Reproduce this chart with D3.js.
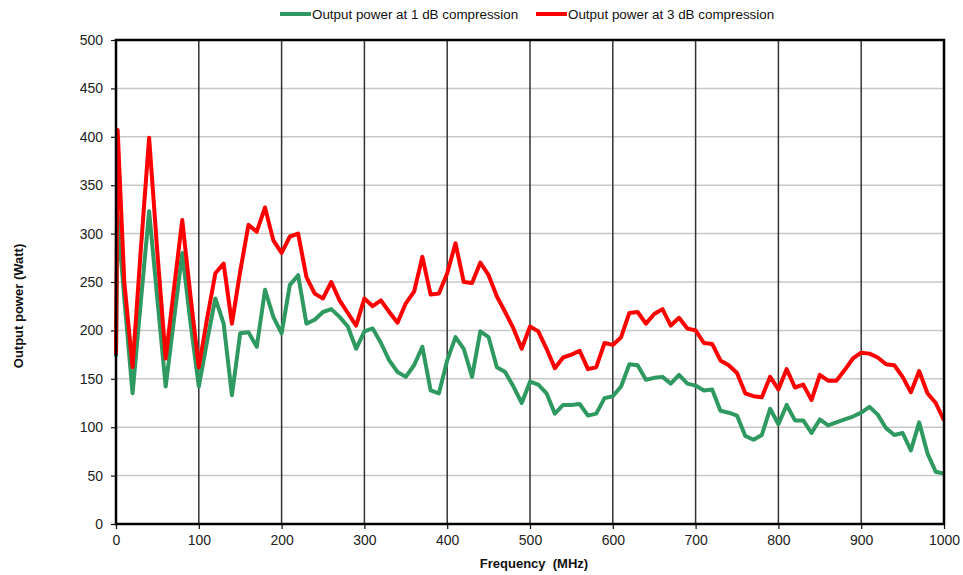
<!DOCTYPE html>
<html><head><meta charset="utf-8">
<script src="https://cdn.jsdelivr.net/npm/d3@7/dist/d3.min.js"></script>
<style>
body{margin:0;background:#fff;}
text{font-family:"Liberation Sans",Arial,Helvetica,sans-serif;}
</style></head>
<body><svg id="c" width="963" height="575"></svg>
<script>
const freq = [0,2,10,20,30,40,50,60,70,80,90,100,110,120,130,140,150,160,170,180,190,200,210,220,230,240,250,260,270,280,290,300,310,320,330,340,350,360,370,380,390,400,410,420,430,440,450,460,470,480,490,500,510,520,530,540,550,560,570,580,590,600,610,620,630,640,650,660,670,680,690,700,710,720,730,740,750,760,770,780,790,800,810,820,830,840,850,860,870,880,890,900,910,920,930,940,950,960,970,980,990,1000];
const p1dB = [173,319,233,135,230,323,232,142,211,280,208,142,189,233,207,133,197,198,183,242,214,197,247,257,207,211,219,222,214,204,181,199,202,187,169,157,152,164,183,138,135,169,193,181,152,199,193,162,157,142,125,147,144,135,114,123,123,124,112,114,130,132,142,165,164,149,151,152,145,154,145,143,138,139,117,115,112,91,87,92,119,103,123,107,107,94,108,102,105,108,111,115,121,113,99,92,94,76,105,73,54,52];
const p3dB = [175,407,250,162,284,399,280,171,243,314,235,162,212,259,269,207,261,309,302,327,293,280,297,300,255,238,233,250,231,218,205,233,225,231,219,208,228,240,276,237,238,259,290,250,249,270,257,235,219,202,181,204,199,181,161,172,175,179,160,162,187,185,193,218,219,207,217,222,205,213,202,200,187,186,169,164,156,135,132,131,152,139,160,141,144,128,154,148,148,159,171,177,176,172,165,164,152,136,158,135,125,107];
const xTicks = [0,100,200,300,400,500,600,700,800,900,1000];
const yTicks = [0,50,100,150,200,250,300,350,400,450,500];
const seriesNames = ["Output power at 1 dB compression","Output power at 3 dB compression"];
const colors = ["#2e9960","#ff0000"];

const svg = d3.select("#c");
const L=116, R=944, T=40, B=524;
const x = d3.scaleLinear().domain([0,1000]).range([L,R]);
const y = d3.scaleLinear().domain([0,500]).range([B,T]);

// horizontal grid
svg.append("g").selectAll("line").data(yTicks.slice(1)).join("line")
  .attr("x1",L).attr("x2",R).attr("y1",d=>y(d)).attr("y2",d=>y(d))
  .attr("stroke","#c8c8c8").attr("stroke-width",1.5);
// vertical grid
svg.append("g").selectAll("line").data(xTicks.slice(1,-1)).join("line")
  .attr("y1",T).attr("y2",B).attr("x1",d=>x(d)).attr("x2",d=>x(d))
  .attr("stroke","#333").attr("stroke-width",1.5);

// axes
const xa = svg.append("g").attr("transform",`translate(0,${B})`)
  .call(d3.axisBottom(x).tickValues(xTicks).tickFormat(d3.format("d")).tickSize(5).tickPadding(6));
const ya = svg.append("g").attr("transform",`translate(${L},0)`)
  .call(d3.axisLeft(y).tickValues(yTicks).tickFormat(d3.format("d")).tickSize(5).tickPadding(8));
[xa,ya].forEach(a=>{
  a.select(".domain").remove();
  a.selectAll(".tick line").attr("stroke","#111").attr("stroke-width",1.2);
  a.selectAll(".tick text").attr("font-size",14).attr("fill","#222")
   .attr("font-family","Liberation Sans, Arial, sans-serif");
});

// lines
const line = d3.line().x((d,i)=>x(freq[i])).y(d=>y(d));
[p1dB,p3dB].forEach((s,k)=>{
  svg.append("path").datum(s).attr("d",line).attr("fill","none")
    .attr("stroke",colors[k]).attr("stroke-width",4).attr("stroke-linejoin","round");
});

// frame
svg.append("rect").attr("x",L).attr("y",T).attr("width",R-L).attr("height",B-T)
  .attr("fill","none").attr("stroke","#000").attr("stroke-width",2.5);

// axis titles
svg.append("text").attr("x",(L+R)/2+4).attr("y",568).attr("text-anchor","middle")
  .attr("font-size",13).attr("font-weight","bold").attr("fill","#111")
  .attr("xml:space","preserve").text("Frequency  (MHz)");
svg.append("text").attr("transform",`translate(23,${(T+B)/2+24}) rotate(-90)`)
  .attr("text-anchor","middle").attr("font-size",13).attr("font-weight","bold").attr("fill","#111")
  .text("Output power (Watt)");

// legend
const legX=[280,536];
seriesNames.forEach((n,k)=>{
  const g = svg.append("g").attr("transform",`translate(${legX[k]},14)`);
  g.append("line").attr("x1",0).attr("x2",31).attr("y1",0).attr("y2",0)
    .attr("stroke",colors[k]).attr("stroke-width",4);
  g.append("text").attr("x",32).attr("y",4.5).attr("font-size",13.4).attr("fill","#111").text(n);
});
</script></body></html>
